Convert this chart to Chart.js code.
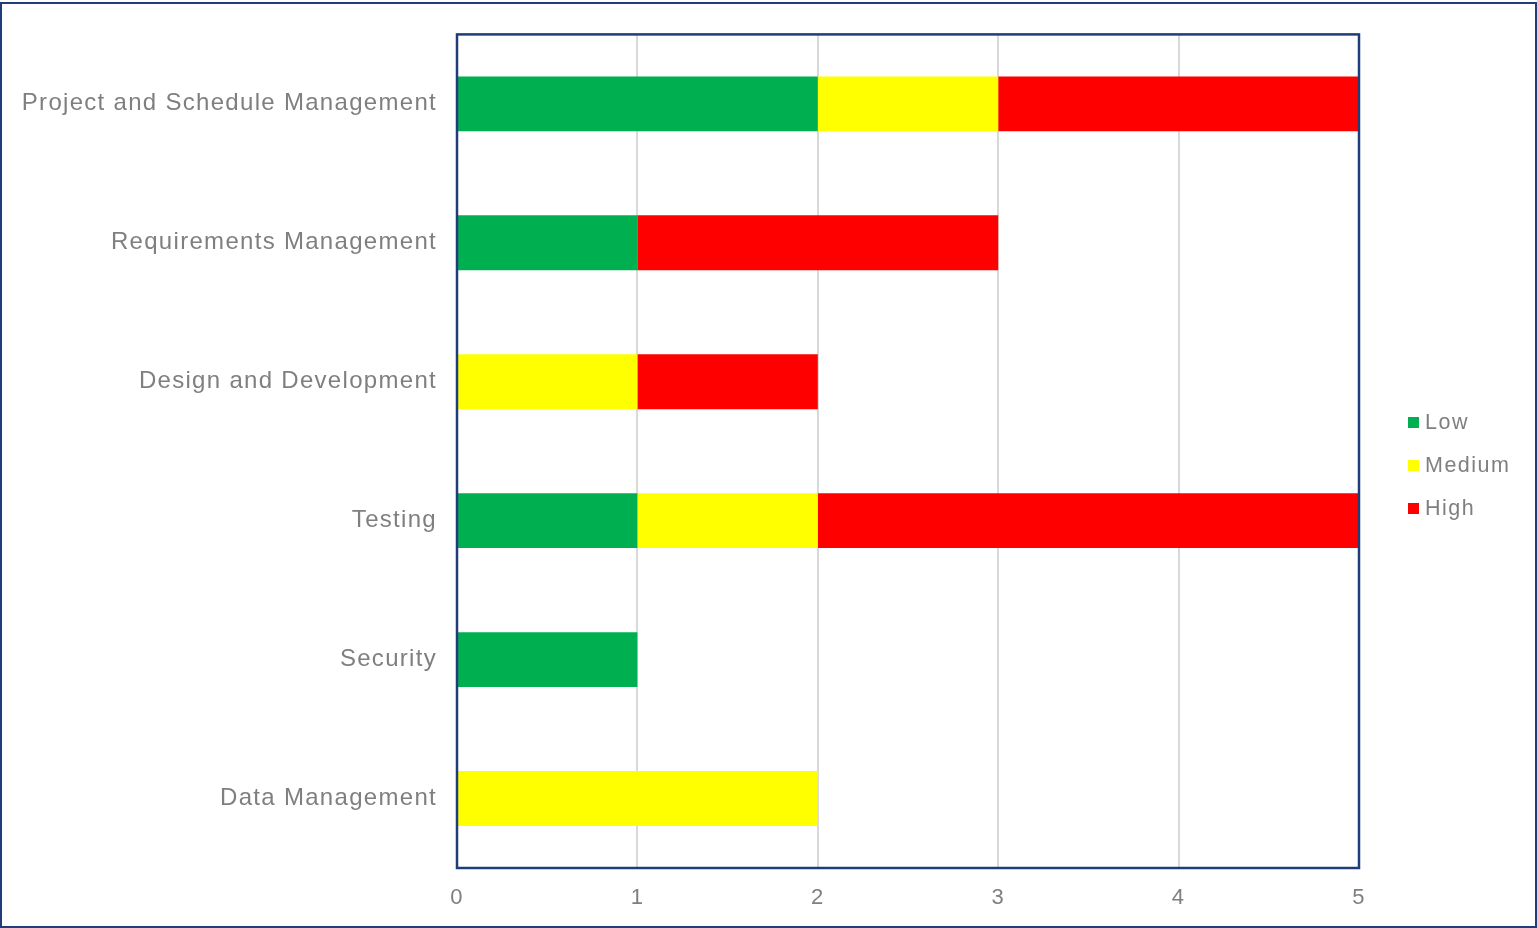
<!DOCTYPE html>
<html>
<head>
<meta charset="utf-8">
<script src="https://cdn.jsdelivr.net/npm/chart.js@4.4.1/dist/chart.umd.min.js"></script>
<style>
  html, body { margin: 0; padding: 0; background: #fff; }
  #wrap { position: relative; width: 1537px; height: 928px; overflow: hidden; }
  #frame { position: absolute; left: 0; top: 2px; width: 1537px; height: 926px; box-sizing: border-box; border: 2px solid #1F3D78; pointer-events: none; }
  canvas { position: absolute; left: 0; top: 0; }
  .leg { position: absolute; left: 1408px; font-family: "Liberation Sans", Arial, sans-serif; font-size: 21.5px; letter-spacing: 1.5px; color: #7F7F7F; display: flex; align-items: center; height: 24px; }
  .leg span.box { display: inline-block; width: 11px; height: 11px; margin-right: 6px; }
</style>
</head>
<body>
<div id="wrap">
  <canvas id="c" width="1537" height="928"></canvas>
  <div id="frame"></div>
  <div id="legend"></div>
</div>
<script>
const categories = [
  "Project and Schedule Management",
  "Requirements Management",
  "Design and Development",
  "Testing",
  "Security",
  "Data Management"
];
const lowValues    = [2, 1, 0, 1, 1, 0];
const mediumValues = [1, 0, 1, 1, 0, 2];
const highValues   = [2, 2, 1, 3, 0, 0];
const seriesNames  = ["Low", "Medium", "High"];
const seriesColors = ["#00B050", "#FFFF00", "#FF0000"];
const xTicks = [0, 1, 2, 3, 4, 5];

const PLOT = { left: 457, right: 1359, top: 33, bottom: 868 };

const spacingPlugin = {
  id: 'spacing',
  beforeUpdate(chart) { chart.ctx.letterSpacing = '1.3px'; },
  beforeDraw(chart) { chart.ctx.letterSpacing = '1.3px'; }
};

const framePlugin = {
  id: 'frame',
  afterDraw(chart) {
    const a = chart.chartArea, ctx = chart.ctx;
    ctx.save();
    ctx.strokeStyle = '#1F3D78';
    ctx.lineWidth = 2.5;
    ctx.strokeRect(a.left, a.top, a.right - a.left, a.bottom - a.top);
    ctx.restore();
  }
};

const seriesData = [lowValues, mediumValues, highValues];

new Chart(document.getElementById('c'), {
  type: 'bar',
  data: {
    labels: categories,
    datasets: seriesNames.map((n, i) => ({
      label: n,
      data: seriesData[i],
      backgroundColor: seriesColors[i],
      borderWidth: 0,
      barPercentage: 0.395,
      categoryPercentage: 1.0
    }))
  },
  options: {
    indexAxis: 'y',
    responsive: false,
    animation: false,
    devicePixelRatio: 1,
    layout: { padding: { top: PLOT.top, right: 1537 - PLOT.right, left: 0, bottom: 0 } },
    plugins: { legend: { display: false }, tooltip: { enabled: false } },
    scales: {
      x: {
        stacked: true,
        min: 0, max: 5,
        afterBuildTicks(scale) { scale.ticks = xTicks.map(v => ({ value: v })); },
        afterFit(scale) { scale.height = 928 - PLOT.bottom; },
        grid: { color: '#D9D9D9', lineWidth: 2, drawTicks: false },
        border: { display: false },
        ticks: {
          padding: 17,
          color: '#7F7F7F',
          font: { family: '"Liberation Sans", Arial, sans-serif', size: 22 }
        }
      },
      y: {
        stacked: true,
        afterFit(scale) { scale.width = PLOT.left; },
        grid: { display: false, drawTicks: false },
        border: { display: false },
        ticks: {
          padding: 20,
          color: '#7F7F7F',
          font: { family: '"Liberation Sans", Arial, sans-serif', size: 24 }
        }
      }
    }
  },
  plugins: [spacingPlugin, framePlugin]
});

const legendTops = [422, 465, 508];
const legendEl = document.getElementById('legend');
seriesNames.forEach((n, i) => {
  const d = document.createElement('div');
  d.className = 'leg';
  d.style.top = (legendTops[i] - 12) + 'px';
  const b = document.createElement('span');
  b.className = 'box';
  b.style.background = seriesColors[i];
  d.appendChild(b);
  d.appendChild(document.createTextNode(n));
  legendEl.appendChild(d);
});
</script>
</body>
</html>
